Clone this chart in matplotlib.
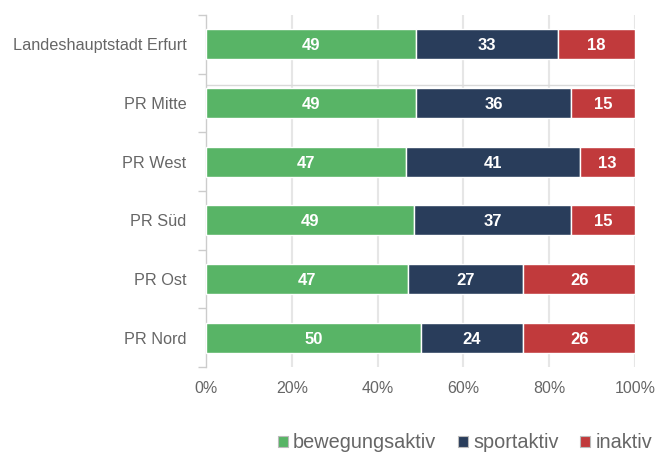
import matplotlib.pyplot as plt
from matplotlib.patches import Patch

plt.rcParams['font.family'] = ['Liberation Sans', 'DejaVu Sans']

# Anteile je Planungsraum (in %)
regionen = ['Landeshauptstadt Erfurt', 'PR Mitte', 'PR West', 'PR Süd', 'PR Ost', 'PR Nord']
bewegungsaktiv = [49, 49, 47, 49, 47, 50]
sportaktiv = [33, 36, 41, 37, 27, 24]
inaktiv = [18, 15, 13, 15, 26, 26]
x_ticks = [0, 20, 40, 60, 80, 100]
x_labels = ['0%', '20%', '40%', '60%', '80%', '100%']

serien = [
    ('bewegungsaktiv', bewegungsaktiv, '#58b466'),
    ('sportaktiv', sportaktiv, '#293d5b'),
    ('inaktiv', inaktiv, '#c13a3c'),
]

W, H = 656, 455
fig = plt.figure(figsize=(W / 100, H / 100), dpi=100)
ax = fig.add_axes([206 / W, (H - 367) / H, (635 - 206) / W, (367 - 15) / H])

txt = '#666666'
grid = '#e6e6e6'

# Summen je Zeile (fuer Normierung auf 100 %)
summen = [a + b + c for a, b, c in zip(bewegungsaktiv, sportaktiv, inaktiv)]

y = list(range(len(regionen)))
links = [0.0] * len(regionen)
for name, werte, farbe in serien:
    breiten = [w / s * 100 for w, s in zip(werte, summen)]
    ax.barh(y, breiten, left=links, height=0.51, color=farbe,
            edgecolor='white', linewidth=1, zorder=3)
    for i, (l, b, w) in enumerate(zip(links, breiten, werte)):
        ax.text(l + b / 2, i, str(w), ha='center', va='center_baseline',
                color='white', fontsize=12, fontweight='bold', zorder=4)
    links = [l + b for l, b in zip(links, breiten)]

ax.set_xlim(0, 100)
ax.set_ylim(len(regionen) - 0.5, -0.5)

ax.set_xticks(x_ticks)
ax.set_xticklabels(x_labels, color=txt, fontsize=11.5)
ax.set_yticks(y)
ax.set_yticklabels(regionen, color=txt, fontsize=11.7)
ax.tick_params(axis='y', length=0, pad=14)
ax.tick_params(axis='x', length=0, pad=10)

# Kategoriegrenzen als kurze Ticks links der Achse
ax.set_yticks([i - 0.5 for i in range(len(regionen) + 1)], minor=True)
ax.tick_params(axis='y', which='minor', length=6, color='#cccccc', width=1)

for xv in x_ticks[1:]:
    ax.axvline(xv, color=grid, linewidth=1.5, zorder=1)
ax.axhline(0.7, color='#d9d9d9', linewidth=1, zorder=1)

for s in ['top', 'right', 'bottom']:
    ax.spines[s].set_visible(False)
ax.spines['left'].set_color('#cccccc')
ax.spines['left'].set_linewidth(1)

handles = [Patch(facecolor=f, edgecolor='#bbbbbb', linewidth=0.8, label=n)
           for n, _, f in serien]
fig.legend(handles=handles, loc='center', bbox_to_anchor=(465 / W, 12 / H),
           ncol=3, frameon=False, fontsize=14.3, labelcolor=txt,
           handlelength=0.5, handleheight=0.5, handletextpad=0.25,
           columnspacing=1.1, borderaxespad=0)

fig.savefig('out.png', dpi=100)
